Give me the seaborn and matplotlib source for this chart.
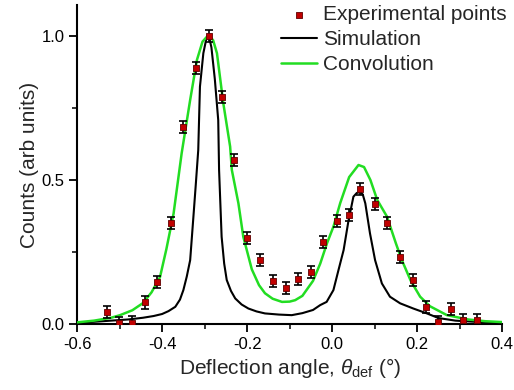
import matplotlib
matplotlib.use("Agg")
import matplotlib.pyplot as plt
import seaborn as sns
import pandas as pd
from matplotlib.ticker import MultipleLocator, FormatStrFormatter

sns.set_theme(style="ticks")
plt.rcParams['font.family'] = ['Liberation Sans', 'DejaVu Sans']
plt.rcParams['axes.unicode_minus'] = False
plt.rcParams['mathtext.fontset'] = 'custom'
plt.rcParams['mathtext.rm'] = 'Liberation Sans'
plt.rcParams['mathtext.it'] = 'Liberation Sans:italic'

# Experimental points
exp_x = [-0.529, -0.501, -0.470, -0.440, -0.412, -0.379, -0.350, -0.320, -0.289,
         -0.259, -0.231, -0.200, -0.169, -0.139, -0.108, -0.080, -0.049, -0.021,
         0.012, 0.040, 0.066, 0.101, 0.129, 0.160, 0.191, 0.221, 0.249, 0.280,
         0.308, 0.341]
exp_y = [0.042, 0.003, 0.005, 0.076, 0.146, 0.351, 0.684, 0.889, 1.000,
         0.788, 0.569, 0.299, 0.222, 0.149, 0.125, 0.156, 0.181, 0.285,
         0.358, 0.378, 0.469, 0.417, 0.351, 0.233, 0.153, 0.059, 0.007, 0.052,
         0.014, 0.014]
exp_err = [0.022] * len(exp_x)

# Simulation curve
sim_x = [-0.600, -0.560, -0.520, -0.480, -0.445, -0.420, -0.400, -0.385, -0.369,
         -0.358, -0.350, -0.342, -0.334, -0.326, -0.321, -0.315, -0.311, -0.303,
         -0.296, -0.290, -0.284, -0.276, -0.268, -0.266, -0.262, -0.260, -0.254,
         -0.248, -0.238, -0.228, -0.213, -0.197, -0.178, -0.158, -0.125,
         -0.095, -0.070, -0.045, -0.028, -0.013, 0.003, 0.015, 0.027, 0.038,
         0.050, 0.058, 0.066, 0.072, 0.078, 0.089, 0.101, 0.117, 0.136, 0.160,
         0.191, 0.223, 0.250, 0.290, 0.348, 0.400]
sim_y = [0.005, 0.008, 0.012, 0.016, 0.022, 0.028, 0.035, 0.045, 0.060,
         0.085, 0.118, 0.165, 0.222, 0.380, 0.480, 0.604, 0.824, 0.940,
         0.990, 1.000, 0.960, 0.850, 0.708, 0.535, 0.380, 0.303, 0.210,
         0.153, 0.115, 0.089, 0.068, 0.054, 0.044, 0.037, 0.033,
         0.031, 0.038, 0.049, 0.066, 0.077, 0.118, 0.188, 0.257, 0.355,
         0.442, 0.455, 0.458, 0.450, 0.419, 0.315, 0.222, 0.141, 0.095, 0.072,
         0.054, 0.037, 0.021, 0.012, 0.007, 0.004]

# Convolution curve
conv_x = [-0.600, -0.560, -0.520, -0.499, -0.470, -0.445, -0.425, -0.405, -0.390,
          -0.373, -0.354, -0.334, -0.318, -0.305, -0.291, -0.280, -0.271, -0.256,
          -0.240, -0.236, -0.2205, -0.209, -0.189, -0.172, -0.158, -0.140,
          -0.118, -0.100, -0.087, -0.070, -0.045, -0.028, -0.012, 0.003, 0.019,
          0.040, 0.062, 0.075, 0.090, 0.106, 0.129, 0.150, 0.164, 0.185, 0.207,
          0.230, 0.270, 0.320, 0.360, 0.400]
conv_y = [0.006, 0.012, 0.022, 0.031, 0.048, 0.073, 0.110, 0.163, 0.260,
          0.384, 0.593, 0.778, 0.917, 0.980, 1.003, 0.985, 0.940, 0.766,
          0.616, 0.535, 0.419, 0.303, 0.190, 0.135, 0.107, 0.088,
          0.077, 0.078, 0.083, 0.098, 0.150, 0.210, 0.281, 0.338, 0.420,
          0.510, 0.552, 0.545, 0.500, 0.431, 0.373, 0.280, 0.222, 0.150, 0.095,
          0.062, 0.031, 0.016, 0.010, 0.007]

exp_df = pd.DataFrame({"x": exp_x, "y": exp_y, "err": exp_err})
sim_df = pd.DataFrame({"x": sim_x, "y": sim_y})
conv_df = pd.DataFrame({"x": conv_x, "y": conv_y})

fig = plt.figure(figsize=(5.14, 3.90), dpi=100)
ax = fig.add_axes([0.150, 0.169, 0.827, 0.818])

ax.errorbar(exp_df["x"], exp_df["y"], yerr=exp_df["err"], fmt="none",
            ecolor="black", elinewidth=1.2, capsize=3, capthick=1.2, zorder=4)
sns.scatterplot(data=exp_df, x="x", y="y", ax=ax, marker="s", s=22,
                color="#c00000", edgecolor="#600000", linewidth=0.6,
                label="Experimental points", zorder=5)
sns.lineplot(data=sim_df, x="x", y="y", ax=ax, color="black", linewidth=1.5,
             label="Simulation", zorder=2)
sns.lineplot(data=conv_df, x="x", y="y", ax=ax, color="#22dd22", linewidth=1.8,
             label="Convolution", zorder=3)

ax.set_xlim(-0.6, 0.4)
ax.set_ylim(0.0, 1.107)
ax.xaxis.set_major_locator(MultipleLocator(0.2))
ax.xaxis.set_minor_locator(MultipleLocator(0.1))
ax.yaxis.set_major_locator(MultipleLocator(0.5))
ax.yaxis.set_minor_locator(MultipleLocator(0.25))
ax.xaxis.set_major_formatter(FormatStrFormatter('%.1f'))
ax.yaxis.set_major_formatter(FormatStrFormatter('%.1f'))
ax.tick_params(which="major", direction="out", length=6, width=1.3, labelsize=12,
               colors="black", pad=3)
ax.tick_params(which="minor", direction="out", length=3.5, width=1.3)
for s in ["left", "bottom"]:
    ax.spines[s].set_linewidth(1.5)
    ax.spines[s].set_color("black")
ax.spines["top"].set_visible(False)
ax.spines["right"].set_visible(False)

ax.set_xlabel("Deflection angle, $\\theta_{\\rm def}$ (°)", fontsize=15, labelpad=3)
ax.set_ylabel("Counts (arb units)", fontsize=15, labelpad=2)

leg = ax.legend(loc="upper right", bbox_to_anchor=(507 / 514, 1 - 5 / 390),
                bbox_transform=fig.transFigure, frameon=False,
                fontsize=15, handlelength=1.75, handletextpad=0.3,
                labelspacing=0.3, borderaxespad=0.0, borderpad=0.0)

fig.savefig("out.png", dpi=100)
